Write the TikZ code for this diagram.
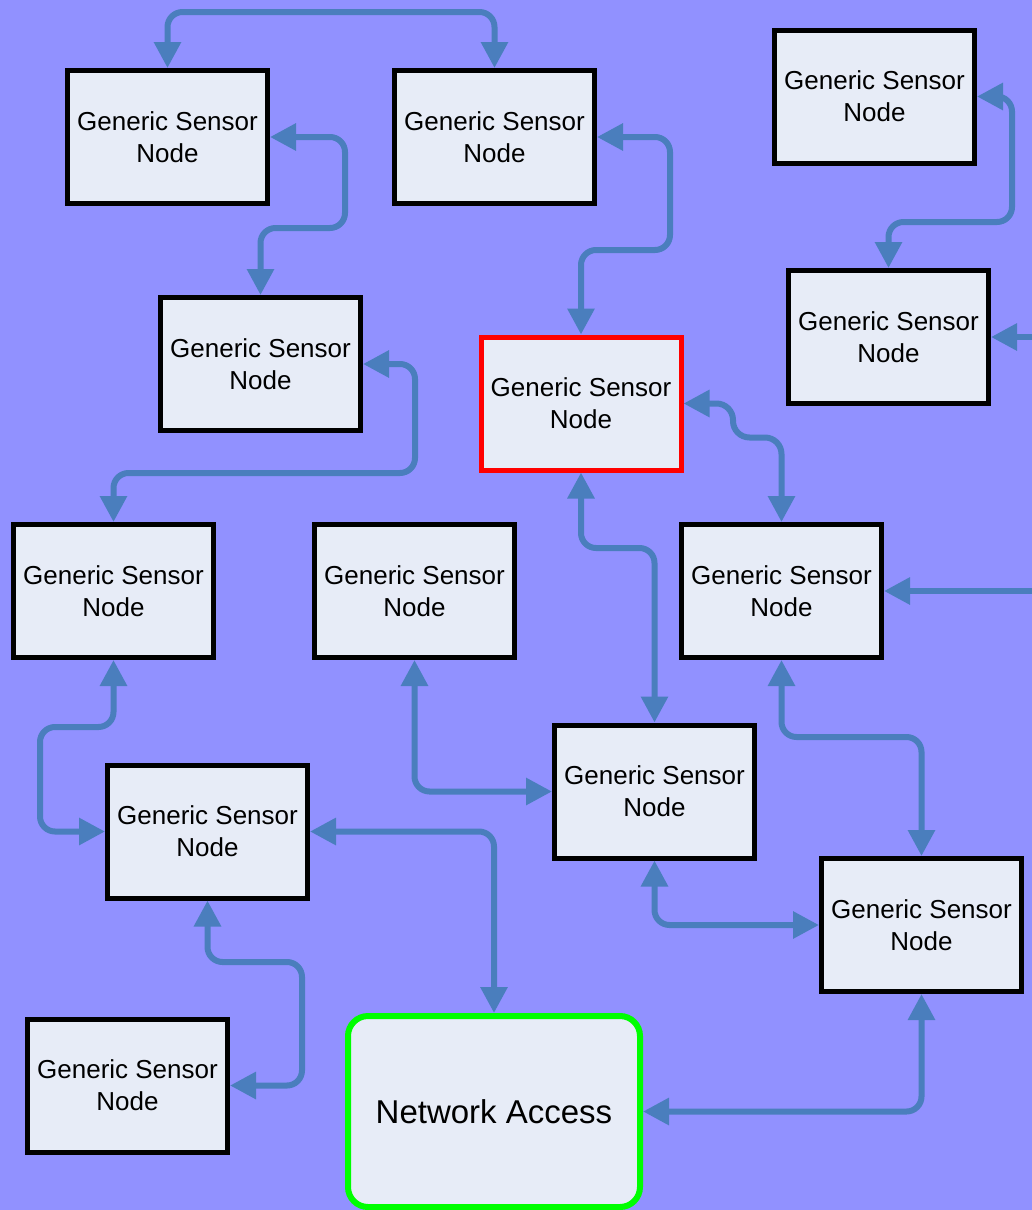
\documentclass[tikz,border=0pt]{standalone}
\usepackage{fontspec}
\setmainfont{Liberation Sans}
\usetikzlibrary{arrows.meta}
\definecolor{bgc}{RGB}{145,145,255}
\definecolor{nodefill}{RGB}{231,236,247}
\definecolor{linkc}{RGB}{74,126,189}
\definecolor{redb}{RGB}{255,0,0}
\definecolor{greenb}{RGB}{0,255,0}
\tikzset{
  sensor/.style={draw=black, line width=5pt, fill=nodefill, minimum width=200pt, minimum height=133pt,
    align=center, inner sep=0pt, font=\fontsize{26}{32}\selectfont},
  hot/.style={sensor, draw=redb},
  access/.style={draw=greenb, line width=6pt, fill=nodefill, rounded corners=20pt, minimum width=292pt,
    minimum height=191pt, align=center, font=\fontsize{33}{40}\selectfont},
  conn/.style={draw=linkc, line width=6pt, rounded corners=15pt, {Triangle[length=26pt,width=26pt]}-{Triangle[length=26pt,width=26pt]}},
  inconn/.style={draw=linkc, line width=6pt, -{Triangle[length=26pt,width=26pt]}}
}
\begin{document}
\begin{tikzpicture}[x=1pt,y=1pt]
\fill[bgc] (0,0) rectangle (1032,-1210);
\useasboundingbox (0,0) rectangle (1032,-1210);
\node[sensor] (n1) at (167.5,-137) {Generic Sensor\\Node};
\node[sensor] (n2) at (494.5,-137) {Generic Sensor\\Node};
\node[sensor] (n3) at (874.5,-96.5) {Generic Sensor\\Node};
\node[sensor] (n4) at (260.5,-364) {Generic Sensor\\Node};
\node[hot] (n5) at (581,-403.5) {Generic Sensor\\Node};
\node[sensor] (n6) at (888.5,-337) {Generic Sensor\\Node};
\node[sensor] (n7) at (113.5,-591) {Generic Sensor\\Node};
\node[sensor] (n8) at (414.5,-591) {Generic Sensor\\Node};
\node[sensor] (n9) at (781.5,-591) {Generic Sensor\\Node};
\node[sensor] (n10) at (654.5,-791.5) {Generic Sensor\\Node};
\node[sensor] (n11) at (207.5,-831.5) {Generic Sensor\\Node};
\node[sensor] (n12) at (921.5,-925) {Generic Sensor\\Node};
\node[sensor] (n13) at (127.5,-1085.5) {Generic Sensor\\Node};
\node[access] (na) at (494,-1111.5) {Network Access};
\coordinate (e6) at (1040,-337);
\coordinate (e9) at (1040,-591);
% connectors
\draw[conn] (n1.north) -- ++(0,56) -| (n2.north);
\draw[conn] (n1.east) -| (345,-228) -| (n4.north);
\draw[conn] (n2.east) -| (670,-250) -| (n5.north);
\draw[conn] (n3.east) -| (1012,-222) -| (n6.north);
\draw[inconn] (e6) -- (n6.east);
\draw[conn] (n4.east) -| (415,-473) -| (n7.north);
\draw[conn, rounded corners=16.5pt] (n5.east) -| (733,-437.5) -| (n9.north);
\draw[conn] (n5.south) -- (581,-548) -| (n10.north);
\draw[inconn] (e9) -- (n9.east);
\draw[conn] (n7.south) |- (40,-727) |- (n11.west);
\draw[conn] (n8.south) |- (n10.west);
\draw[conn] (n9.south) |- (921.5,-737) -- (n12.north);
\draw[conn] (n11.east) -| (na.north);
\draw[conn] (n10.south) |- (n12.west);
\draw[conn] (n11.south) |- (302,-962) |- (n13.east);
\draw[conn] (na.east) -| (n12.south);
\end{tikzpicture}
\end{document}
